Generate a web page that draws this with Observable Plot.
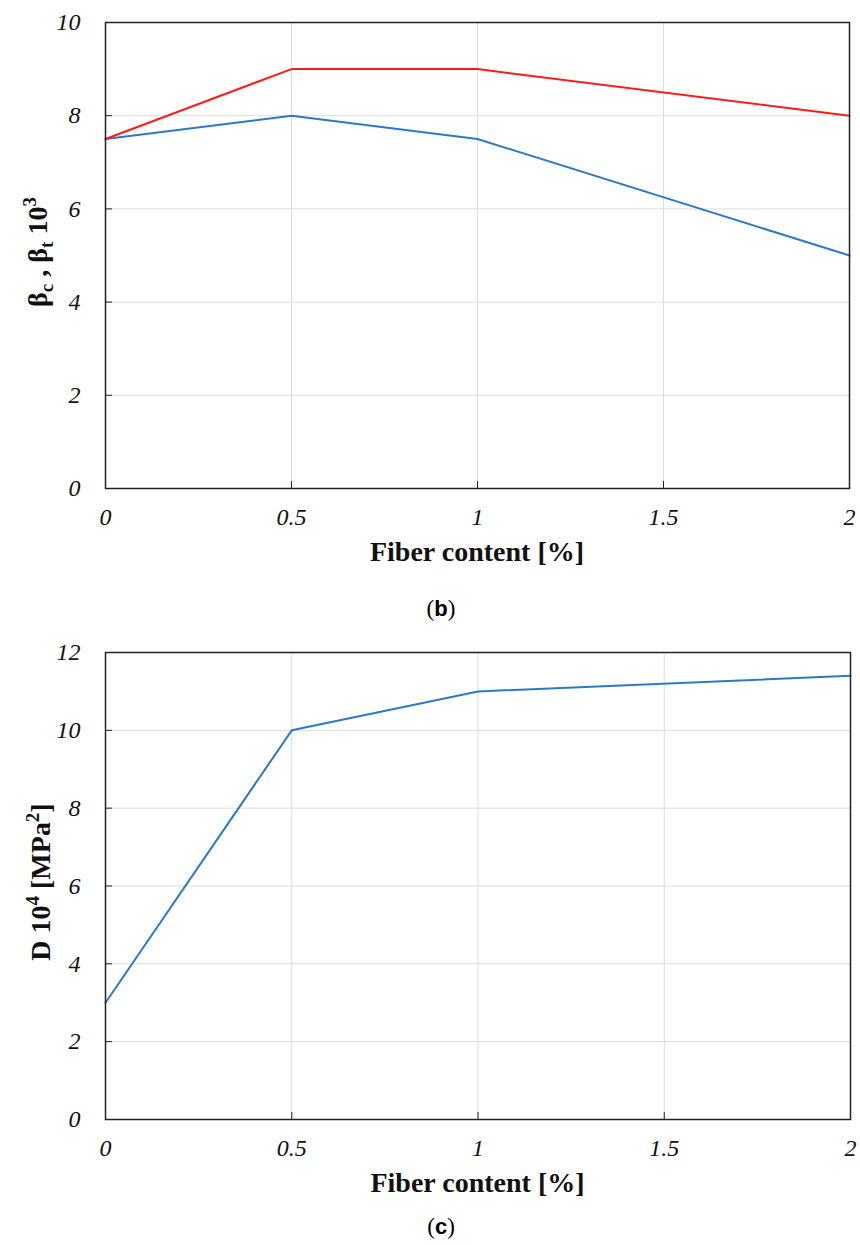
<!DOCTYPE html>
<html>
<head>
<meta charset="utf-8">
<script src="https://cdn.jsdelivr.net/npm/d3@7"></script>
<script src="https://cdn.jsdelivr.net/npm/@observablehq/plot@0.6"></script>
<style>
  html, body { margin: 0; padding: 0; background: #fff; }
  #wrap { position: relative; width: 860px; height: 1245px; overflow: hidden; }
  .panel { position: absolute; left: 0; }
  #wrap svg, #wrap svg text { font-family: "Liberation Serif", "Times New Roman", serif !important; }
  .cap { position: absolute; width: 860px; text-align: center; font-family: "Liberation Serif", serif; font-size: 23px; color: #000; }
  .cap b { font-weight: bold; font-family: "Liberation Sans", Arial, sans-serif; font-size: 22px; }
</style>
</head>
<body>
<div id="wrap">
  <div id="pb" class="panel" style="top:0px"></div>
  <div class="cap" style="left:11px; top:596px">(<b>b</b>)</div>
  <div id="pc" class="panel" style="top:630px"></div>
  <div class="cap" style="left:11px; top:1214px">(<b>c</b>)</div>
</div>
<script>
// ---- data ----
const fiberContent = [0, 0.5, 1, 2];
const betaC = [7.5, 9, 9, 8];       // red series
const betaT = [7.5, 8, 7.5, 5];     // blue series
const dValues = [3, 10, 11, 11.4];  // D 10^4 [MPa^2]
const xTicks = [0, 0.5, 1, 1.5, 2];
const yTicksB = [0, 2, 4, 6, 8, 10];
const yTicksC = [0, 2, 4, 6, 8, 10, 12];
const xLabel = "Fiber content [%]";

const serif = "Liberation Serif";
const gridColor = "#dcdcdc";
const red = "#ff1a1a";
const blue = "#2e78c8";

function rows(ys) { return fiberContent.map((x, i) => ({x, y: ys[i]})); }

function axesMarks(yTicks) {
  return [
    Plot.gridX(xTicks, {stroke: gridColor, strokeOpacity: 1, strokeWidth: 1}),
    Plot.gridY(yTicks, {stroke: gridColor, strokeOpacity: 1, strokeWidth: 1}),
    // inward tick marks
    Plot.axisX(xTicks, {anchor: "bottom", tickSize: 7, dy: -7, tickFormat: () => "", label: null, stroke: "#222"}),
    Plot.axisY(yTicks, {anchor: "left", tickSize: 7, dx: 7, tickFormat: () => "", label: null, stroke: "#222"}),
    // tick labels
    Plot.axisX(xTicks, {anchor: "bottom", tickSize: 0, tickPadding: 19, label: null,
      fontSize: 24, fontStyle: "italic", fontFamily: serif, fill: "#111", tickFormat: d => String(d)}),
    Plot.axisY(yTicks, {anchor: "left", tickSize: 0, tickPadding: 25, label: null,
      fontSize: 24, fontStyle: "italic", fontFamily: serif, fill: "#111", tickFormat: d => String(d)})
  ];
}

function addLabels(chart, xBaseline, yLabelParts, yLabelX, yLabelCenter) {
  const svg = d3.select(chart);
  const xs = chart.scale("x");
  const cx = xs.apply(1);
  svg.append("text")
    .attr("x", cx).attr("y", xBaseline)
    .attr("text-anchor", "middle")
    .attr("font-family", serif).attr("font-weight", "bold").attr("font-size", 28)
    .attr("fill", "#111")
    .text(xLabel);
  const t = svg.append("text")
    .attr("transform", `translate(${yLabelX},${yLabelCenter}) rotate(-90)`)
    .attr("text-anchor", "middle")
    .attr("font-family", serif).attr("font-weight", "bold").attr("font-size", 28)
    .attr("fill", "#111");
  for (const p of yLabelParts) {
    const ts = t.append("tspan").text(p.text);
    if (p.sub) ts.attr("font-size", 19).attr("dy", 6);
    if (p.sup) ts.attr("font-size", 19).attr("dy", -11);
    if (p.reset) ts.attr("dy", p.reset);
  }
}

// ---- panel (b) ----
const chartB = Plot.plot({
  width: 860, height: 575,
  marginTop: 22, marginBottom: 87, marginLeft: 105, marginRight: 11,
  x: {domain: [0, 2]},
  y: {domain: [0, 10]},
  style: {fontFamily: serif, background: "white"},
  marks: [
    ...axesMarks(yTicksB),
    Plot.line(rows(betaT), {x: "x", y: "y", stroke: blue, strokeWidth: 2}),
    Plot.line(rows(betaC), {x: "x", y: "y", stroke: red, strokeWidth: 2}),
    Plot.frame({stroke: "#222", strokeWidth: 1.5})
  ]
});
addLabels(chartB, 561, [
  {text: "β"}, {text: "c", sub: true}, {text: " , β", reset: -6}, {text: "t", sub: true},
  {text: " 10", reset: -6}, {text: "3", sup: true}
], 47, 252);
document.getElementById("pb").appendChild(chartB);

// ---- panel (c) ----
const chartC = Plot.plot({
  width: 860, height: 570,
  marginTop: 22, marginBottom: 81, marginLeft: 105, marginRight: 10,
  x: {domain: [0, 2]},
  y: {domain: [0, 12]},
  style: {fontFamily: serif, background: "white"},
  marks: [
    ...axesMarks(yTicksC),
    Plot.line(rows(dValues), {x: "x", y: "y", stroke: blue, strokeWidth: 2}),
    Plot.frame({stroke: "#222", strokeWidth: 1.5})
  ]
});
addLabels(chartC, 562, [
  {text: "D 10"}, {text: "4", sup: true}, {text: " [MPa", reset: 11}, {text: "2", sup: true}, {text: "]", reset: 11}
], 50, 252);
document.getElementById("pc").appendChild(chartC);
</script>
</body>
</html>
